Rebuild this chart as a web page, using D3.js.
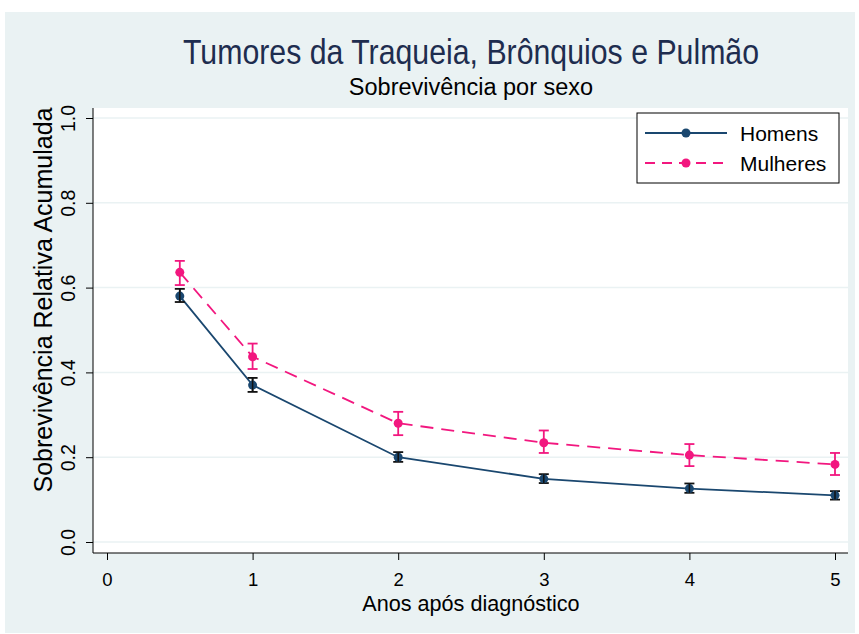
<!DOCTYPE html>
<html><head><meta charset="utf-8">
<script src="https://cdn.jsdelivr.net/npm/d3@7"></script>
<style>body{margin:0;background:#fff}svg{display:block}text{font-family:"Liberation Sans",Arial,sans-serif}</style>
</head><body>
<script>
const years = [0.5, 1, 2, 3, 4, 5];
const homens = [0.580, 0.370, 0.200, 0.149, 0.126, 0.110];
const homensLo = [0.566, 0.354, 0.189, 0.139, 0.116, 0.100];
const homensHi = [0.597, 0.387, 0.212, 0.160, 0.138, 0.120];
const mulheres = [0.636, 0.437, 0.280, 0.234, 0.205, 0.183];
const mulheresLo = [0.606, 0.408, 0.252, 0.210, 0.179, 0.158];
const mulheresHi = [0.663, 0.468, 0.307, 0.263, 0.231, 0.210];
const xTicks = [0, 1, 2, 3, 4, 5];
const yTicks = [0, 0.2, 0.4, 0.6, 0.8, 1.0];
const seriesNames = ["Homens", "Mulheres"];

const W = 859, H = 634;
const svg = d3.select("body").append("svg").attr("width", W).attr("height", H);
svg.append("rect").attr("x", 5).attr("y", 12).attr("width", 850).attr("height", 621).attr("fill", "#eaf2f3");

const pl = 93, pr = 848, pt = 108, pb = 553;
svg.append("rect").attr("x", pl).attr("y", pt).attr("width", pr - pl).attr("height", pb - pt).attr("fill", "#fff");

const x = d3.scaleLinear().domain([0, 5]).range([107, 835]);
const y = d3.scaleLinear().domain([0, 1]).range([542, 118]);

// grid
svg.append("g").selectAll("line").data(yTicks).join("line")
  .attr("x1", pl).attr("x2", pr).attr("y1", d => y(d)).attr("y2", d => y(d))
  .attr("stroke", "#eaf2f3").attr("stroke-width", 1.5);

// axes
const yAxis = svg.append("g").attr("transform", `translate(${pl},0)`)
  .call(d3.axisLeft(y).tickValues(yTicks).tickFormat(d3.format(".1f")).tickSize(7).tickSizeOuter(0));
yAxis.select(".domain").attr("d", `M0,${pt}V${pb}`).attr("stroke", "#000");
yAxis.selectAll(".tick line").attr("stroke", "#000");
yAxis.selectAll(".tick text").attr("font-size", 19.5).attr("fill", "#000")
  .attr("transform", "rotate(-90)").attr("x", 0).attr("y", -18).attr("dy", 0)
  .attr("text-anchor", "middle");

const xAxis = svg.append("g").attr("transform", `translate(0,${pb})`)
  .call(d3.axisBottom(x).tickValues(xTicks).tickFormat(d3.format("d")).tickSize(7).tickSizeOuter(0));
xAxis.select(".domain").attr("d", `M${pl},0H${pr}`).attr("stroke", "#000");
xAxis.selectAll(".tick line").attr("stroke", "#000");
xAxis.selectAll(".tick text").attr("font-size", 18.5).attr("fill", "#000").attr("y", 33).attr("dy", 0);

// titles
svg.append("text").attr("transform", "translate(471,64) scale(0.865,1)").attr("text-anchor", "middle")
  .attr("font-size", 35).attr("fill", "#1e2d4f")
  .text("Tumores da Traqueia, Brônquios e Pulmão");
svg.append("text").attr("x", 471).attr("y", 95).attr("text-anchor", "middle").attr("font-size", 23.5).attr("fill", "#000")
  .text("Sobrevivência por sexo");
svg.append("text").attr("x", 471).attr("y", 611).attr("text-anchor", "middle").attr("font-size", 21.6).attr("fill", "#000")
  .text("Anos após diagnóstico");
svg.append("text").attr("transform", "translate(52,300) rotate(-90)").attr("text-anchor", "middle").attr("font-size", 25).attr("fill", "#000")
  .text("Sobrevivência Relativa Acumulada");

const series = [
  {name: seriesNames[0], v: homens, lo: homensLo, hi: homensHi, color: "#1a476f", ebar: "#111", dash: null},
  {name: seriesNames[1], v: mulheres, lo: mulheresLo, hi: mulheresHi, color: "#f2177f", ebar: "#f2177f", dash: "13,8"}
];
const line = d3.line().x(d => x(d[0])).y(d => y(d[1]));
series.forEach(s => {
  const pts = years.map((yr, i) => [yr, s.v[i]]);
  svg.append("path").attr("d", line(pts)).attr("fill", "none").attr("stroke", s.color).attr("stroke-width", 1.8)
    .attr("stroke-dasharray", s.dash);
  const g = svg.append("g");
  years.forEach((yr, i) => {
    const cx = x(yr);
    g.append("line").attr("x1", cx).attr("x2", cx).attr("y1", y(s.lo[i])).attr("y2", y(s.hi[i])).attr("stroke", s.ebar).attr("stroke-width", 1.8);
    [s.lo[i], s.hi[i]].forEach(v => g.append("line").attr("x1", cx - 5).attr("x2", cx + 5).attr("y1", y(v)).attr("y2", y(v)).attr("stroke", s.ebar).attr("stroke-width", 1.8));
    g.append("circle").attr("cx", cx).attr("cy", y(s.v[i])).attr("r", 4.5).attr("fill", s.color);
    if (s.name === "Homens") {
      g.append("line").attr("x1", cx).attr("x2", cx).attr("y1", y(s.lo[i])).attr("y2", y(s.hi[i])).attr("stroke", s.ebar).attr("stroke-width", 1.5);
    }
  });
});

// legend
const lg = svg.append("g");
lg.append("rect").attr("x", 637).attr("y", 113).attr("width", 202).attr("height", 70).attr("fill", "#fff").attr("stroke", "#000").attr("stroke-width", 1);
series.forEach((s, i) => {
  const ly = 133 + i * 30;
  lg.append("line").attr("x1", 645).attr("x2", 727).attr("y1", ly).attr("y2", ly).attr("stroke", s.color).attr("stroke-width", 1.8).attr("stroke-dasharray", s.dash ? "10,7" : null);
  lg.append("circle").attr("cx", 686).attr("cy", ly).attr("r", 4.5).attr("fill", s.color);
  lg.append("text").attr("x", 740).attr("y", ly + 7.5).attr("font-size", 21).attr("fill", "#000").text(s.name);
});
</script>
</body></html>
